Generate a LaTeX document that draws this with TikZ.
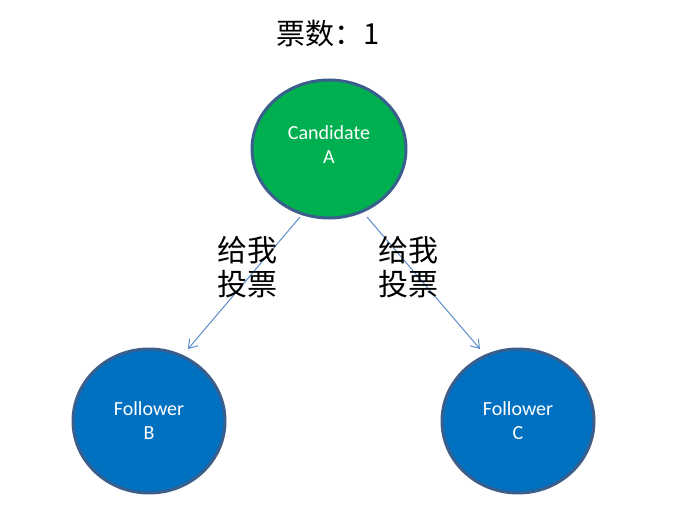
\documentclass[tikz,border=0pt]{standalone}
\usepackage{fontspec}
\setmainfont{Carlito}
\newfontfamily\cjk{Noto Sans CJK SC}
\usetikzlibrary{arrows.meta}
\definecolor{cgreen}{HTML}{00B050}
\definecolor{cblue}{HTML}{0070C0}
\definecolor{cedge}{HTML}{3A5F8C}
\definecolor{carrow}{HTML}{5B8DC9}
\begin{document}
\begin{tikzpicture}[x=1pt,y=-1pt,
  balltext/.style={text=white, align=center, font=\fontsize{20}{24}\selectfont},
  ballfill/.style={draw=cedge, line width=3pt},
  votearrow/.style={draw=carrow, line width=1pt, -{Straight Barb[length=8pt,width=11pt]}},
  cjklabel/.style={font=\cjk\fontsize{30}{34}\selectfont, align=left, inner sep=0pt}]
\useasboundingbox (0,0) rectangle (680,511);
\fill[cgreen, ballfill] (329,149) ellipse [x radius=77, y radius=69];
\node[balltext] (A) at (329,145) {Candidate\\A};
\fill[cblue, ballfill] (149,421) ellipse [x radius=76, y radius=72];
\node[balltext] (B) at (149,421) {Follower\\B};
\fill[cblue, ballfill] (518,421) ellipse [x radius=76, y radius=72];
\node[balltext] (C) at (518,421) {Follower\\C};
\node[font=\cjk\fontsize{29}{32}\selectfont] (title) at (328,34) {票数：1};
\coordinate (a1) at (300,217);
\coordinate (b1) at (188,349);
\coordinate (a2) at (367,217);
\coordinate (c1) at (480,349);
\draw[votearrow] (a1) -- (b1);
\draw[votearrow] (a2) -- (c1);
\node[cjklabel] (l1) at (247,267) {给我\\投票};
\node[cjklabel] (l2) at (408,267) {给我\\投票};
\end{tikzpicture}
\end{document}
